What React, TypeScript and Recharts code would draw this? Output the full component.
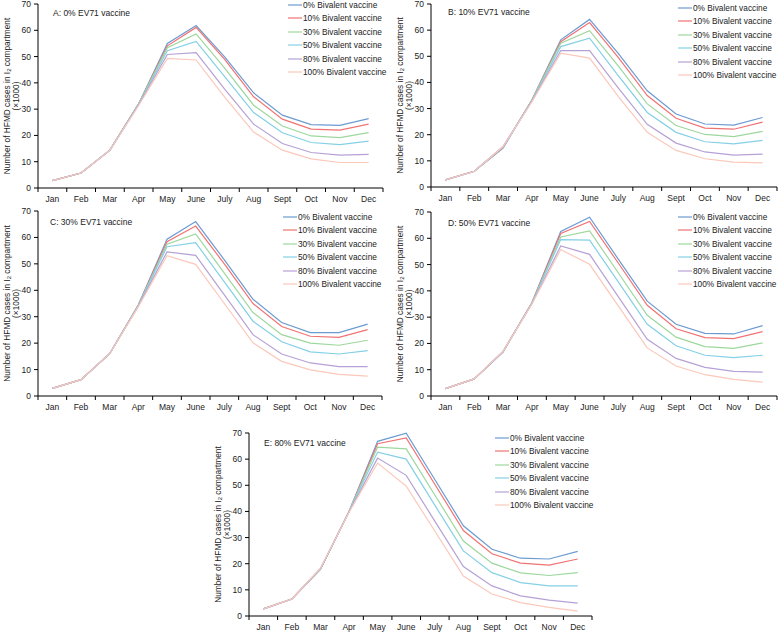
import React from 'react';
import { LineChart, Line, XAxis, YAxis, Legend, Label } from 'recharts';

const months = ['Jan', 'Feb', 'Mar', 'Apr', 'May', 'June', 'July', 'Aug', 'Sept', 'Oct', 'Nov', 'Dec'];
const seriesNames = [
    '0% Bivalent vaccine',
    '10% Bivalent vaccine',
    '30% Bivalent vaccine',
    '50% Bivalent vaccine',
    '80% Bivalent vaccine',
    '100% Bivalent vaccine',
];
const seriesColors = ['#6c9bd2', '#f07373', '#9dd79d', '#84d0e6', '#b6a1d6', '#fbc8bb'];
const yTicks = [0, 10, 20, 30, 40, 50, 60, 70];

// each panel: one row per bivalent level, same order as seriesNames (x1000 cases)
const panelA = [
    [2.8, 5.7, 14.4, 32.0, 55.0, 61.8, 49.8, 36.2, 27.7, 24.1, 23.8, 26.4],
    [2.8, 5.7, 14.4, 32.0, 54.1, 61.1, 48.8, 34.7, 26.2, 22.4, 22.0, 24.3],
    [2.8, 5.7, 14.4, 32.0, 53.4, 58.6, 45.5, 31.5, 23.6, 19.8, 19.2, 21.1],
    [2.8, 5.7, 14.4, 31.8, 52.2, 55.8, 42.3, 28.7, 21.0, 17.3, 16.5, 17.8],
    [2.8, 5.7, 14.4, 31.6, 50.8, 51.5, 37.5, 24.3, 16.9, 13.5, 12.5, 12.8],
    [2.8, 5.7, 14.4, 31.4, 49.3, 48.7, 34.5, 21.3, 14.4, 11.1, 9.7, 9.7],
];
const panelB = [
    [2.7, 6.0, 14.9, 33.3, 56.3, 64.1, 51.0, 36.8, 27.9, 24.1, 23.7, 26.6],
    [2.7, 6.0, 15.2, 33.3, 55.6, 62.9, 49.5, 35.0, 26.3, 22.5, 22.1, 24.8],
    [2.7, 6.0, 15.3, 33.2, 55.0, 59.8, 46.2, 31.8, 23.5, 20.1, 19.3, 21.3],
    [2.7, 6.0, 15.4, 33.0, 53.7, 56.9, 42.5, 28.5, 20.9, 17.3, 16.5, 17.8],
    [2.7, 6.0, 15.5, 32.8, 52.2, 52.2, 37.8, 24.0, 16.8, 13.4, 12.2, 12.6],
    [2.7, 6.0, 15.5, 32.6, 51.2, 49.3, 34.6, 20.9, 14.0, 10.8, 9.5, 9.2],
];
const panelC = [
    [2.9, 6.2, 16.0, 34.4, 59.3, 66.0, 51.5, 36.6, 27.8, 24.0, 24.0, 27.2],
    [2.9, 6.2, 16.0, 34.4, 58.4, 64.3, 50.0, 35.0, 26.3, 22.6, 22.2, 25.1],
    [2.9, 6.2, 16.0, 34.3, 57.4, 61.3, 46.5, 31.6, 23.2, 20.0, 19.2, 21.1],
    [2.9, 6.2, 16.0, 34.2, 56.5, 58.0, 43.2, 28.3, 20.5, 16.7, 15.9, 17.2],
    [2.9, 6.2, 16.0, 34.0, 54.5, 53.2, 38.3, 23.2, 15.9, 12.5, 11.1, 11.1],
    [2.9, 6.2, 16.0, 33.8, 53.1, 49.8, 35.0, 20.1, 13.1, 9.9, 8.2, 7.5],
];
const panelD = [
    [2.8, 6.5, 16.7, 35.5, 62.6, 68.0, 52.0, 36.1, 27.3, 23.8, 23.6, 26.8],
    [2.8, 6.5, 16.9, 35.5, 61.8, 66.4, 50.5, 34.5, 25.6, 22.2, 21.8, 24.5],
    [2.8, 6.5, 16.9, 35.4, 60.5, 62.8, 46.8, 30.7, 22.4, 18.8, 18.1, 20.2],
    [2.8, 6.5, 17.0, 35.3, 59.5, 59.3, 43.3, 27.3, 19.1, 15.5, 14.6, 15.5],
    [2.8, 6.5, 17.0, 35.1, 57.1, 53.9, 37.7, 21.6, 14.3, 10.9, 9.4, 9.1],
    [2.8, 6.5, 17.0, 35.0, 55.7, 50.1, 34.2, 18.3, 11.4, 8.1, 6.3, 5.3],
];
const panelE = [
    [2.7, 6.5, 17.9, 40.0, 66.8, 69.9, 52.2, 34.5, 25.5, 22.1, 21.8, 24.7],
    [2.7, 6.5, 17.9, 40.0, 65.9, 68.1, 50.4, 32.7, 23.8, 20.2, 19.5, 21.8],
    [2.7, 6.5, 17.9, 40.0, 64.6, 63.9, 46.3, 28.7, 20.2, 16.5, 15.5, 16.6],
    [2.7, 6.5, 18.0, 40.0, 62.7, 60.0, 42.4, 24.9, 16.6, 12.8, 11.5, 11.5],
    [2.7, 6.5, 18.2, 39.8, 60.4, 53.8, 36.3, 18.9, 11.5, 7.7, 6.1, 4.9],
    [2.7, 6.5, 18.3, 39.7, 58.5, 49.7, 32.5, 15.3, 8.4, 5.1, 3.3, 1.9],
];
const panelTitles = [
    'A: 0% EV71 vaccine',
    'B: 10% EV71 vaccine',
    'C: 30% EV71 vaccine',
    'D: 50% EV71 vaccine',
    'E: 80% EV71 vaccine',
];

const FONT = '"Liberation Sans", Arial, sans-serif';
const AXIS_W = 38;
const TOP = 4;
const BOTTOM = 22;

// page layout of each plot area (px)
const layouts = [
    { left: 38, top: 4, w: 345, h: 184, legX: 288, legY: 5, titleX: 53, titleY: 13 },
    { left: 431, top: 4, w: 346, h: 183, legX: 678, legY: 8, titleX: 448, titleY: 12 },
    { left: 38, top: 211, w: 344, h: 185, legX: 283, legY: 217, titleX: 50, titleY: 222 },
    { left: 431, top: 212, w: 346, h: 184, legX: 678, legY: 217, titleX: 448, titleY: 223 },
    { left: 249, top: 433, w: 343, h: 183, legX: 495, legY: 438, titleX: 264, titleY: 443 },
];

function MonthTick(props: any) {
    const { x, y, payload, index, bw } = props;
    const axisY = y - 6;
    return (
        <g>
            <line x1={x - bw / 2} x2={x - bw / 2} y1={axisY} y2={axisY + 4} stroke="#000" />
            {index === months.length - 1 && (
                <line x1={x + bw / 2} x2={x + bw / 2} y1={axisY} y2={axisY + 4} stroke="#000" />
            )}
            <text x={x} y={axisY + 14} textAnchor="middle" fontSize={8.5} fill="#222" fontFamily={FONT}>
                {payload.value}
            </text>
        </g>
    );
}

function LegendRows() {
    return (
        <div style={{ fontFamily: FONT, fontSize: 8.3, color: '#222' }}>
            {seriesNames.map((name, i) => (
                <div key={name} style={{ display: 'flex', alignItems: 'center', height: 13.4, whiteSpace: 'nowrap' }}>
                    <svg width={15} height={4} style={{ display: 'block' }}>
                        <line x1={0} x2={14} y1={2} y2={2} stroke={seriesColors[i]} strokeWidth={1.2} />
                    </svg>
                    <span>{name}</span>
                </div>
            ))}
        </div>
    );
}

function Panel({ rows, idx }: { rows: number[][]; idx: number }) {
    const l = layouts[idx];
    const svgLeft = l.left - AXIS_W;
    const svgTop = l.top - TOP;
    const width = AXIS_W + l.w + 2;
    const height = TOP + l.h + BOTTOM;
    const bw = l.w / months.length;
    const data = months.map((m, j) => {
        const d: any = { month: m };
        rows.forEach((r, i) => (d['s' + i] = r[j]));
        return d;
    });

    return (
        <div style={{ position: 'absolute', left: svgLeft, top: svgTop, width, height }}>
            <LineChart width={width} height={height} data={data} margin={{ top: TOP, right: 2, left: 0, bottom: 0 }}>
                <XAxis
                    dataKey="month"
                    height={BOTTOM}
                    interval={0}
                    padding={{ left: bw / 2, right: bw / 2 }}
                    tickSize={4}
                    tickMargin={2}
                    tickLine={false}
                    axisLine={{ stroke: '#000' }}
                    tick={(p: any) => <MonthTick {...p} bw={bw} />}
                />
                <YAxis
                    domain={[0, 70]}
                    ticks={yTicks}
                    interval={0}
                    width={AXIS_W}
                    tickSize={4}
                    tickMargin={3}
                    axisLine={{ stroke: '#000' }}
                    tickLine={{ stroke: '#000' }}
                    tick={{ fontSize: 8.5, fill: '#222', fontFamily: FONT }}
                >
                    <Label
                        content={() => (
                            <g fontFamily={FONT} fontSize={8.3} fill="#222">
                                <text transform={`translate(7,${TOP + l.h / 2}) rotate(-90)`} textAnchor="middle" dominantBaseline="central">
                                    Number of HFMD cases in I<tspan fontSize={6} dy={2}>2</tspan>
                                    <tspan dy={-2}> compartment</tspan>
                                </text>
                                <text transform={`translate(16,${TOP + l.h / 2}) rotate(-90)`} textAnchor="middle" dominantBaseline="central">
                                    (×1000)
                                </text>
                            </g>
                        )}
                    />
                </YAxis>
                <Legend
                    layout="vertical"
                    align="center"
                    verticalAlign="middle"
                    content={<LegendRows />}
                    wrapperStyle={{ position: 'absolute', left: l.legX - svgLeft, top: l.legY - 6.7 - svgTop, width: 'auto' }}
                />
                {seriesNames.map((name, i) => (
                    <Line
                        key={name}
                        type="linear"
                        dataKey={'s' + i}
                        name={name}
                        stroke={seriesColors[i]}
                        strokeWidth={1.2}
                        dot={false}
                        activeDot={false}
                        isAnimationActive={false}
                    />
                ))}
            </LineChart>
            <div
                style={{
                    position: 'absolute',
                    left: l.titleX - svgLeft,
                    top: l.titleY - svgTop - 6,
                    fontFamily: FONT,
                    fontSize: 8.5,
                    lineHeight: '12px',
                    color: '#222',
                    whiteSpace: 'nowrap',
                }}
            >
                {panelTitles[idx]}
            </div>
        </div>
    );
}

export default function App() {
    const panels = [panelA, panelB, panelC, panelD, panelE];
    return (
        <div style={{ position: 'absolute', left: 0, top: 0, width: 778, height: 632, background: '#fff', overflow: 'hidden' }}>
            {panels.map((rows, i) => (
                <Panel key={i} rows={rows} idx={i} />
            ))}
        </div>
    );
}
